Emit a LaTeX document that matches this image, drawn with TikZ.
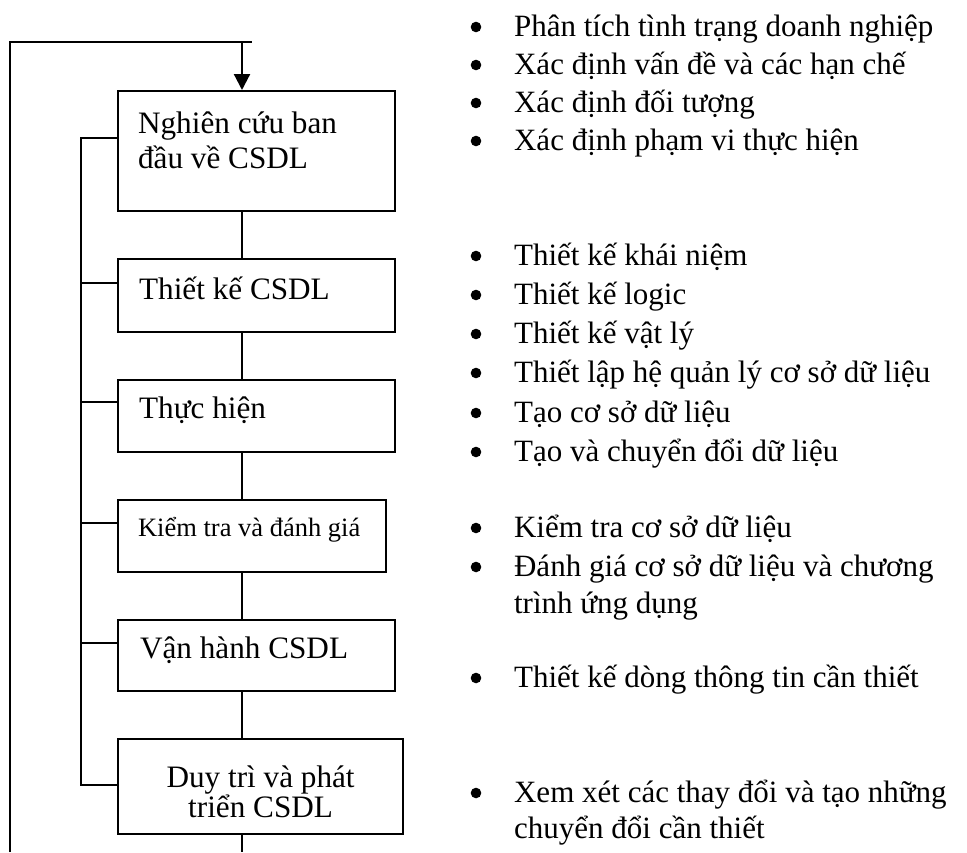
\documentclass[tikz,border=0pt]{standalone}
\usepackage{fontspec}
\setmainfont{Liberation Serif}
\usetikzlibrary{arrows.meta,calc}

\begin{document}
\begin{tikzpicture}[x=1pt,y=-1pt,line width=2.2pt,line join=miter,
  stage/.style={draw,rectangle,inner sep=0pt,anchor=north west},
  boxtext/.style={inner sep=0pt,anchor=base west,font=\fontsize{31.2}{37}\selectfont},
  boxsmall/.style={inner sep=0pt,anchor=base west,font=\fontsize{26.5}{32}\selectfont},
  boxcentre/.style={inner sep=0pt,anchor=base,font=\fontsize{31.2}{37}\selectfont},
  itemtext/.style={inner sep=0pt,anchor=base west,font=\fontsize{31}{38}\selectfont},
  tip/.style={-{Triangle[length=16pt,width=16pt]}}]
\useasboundingbox (0,0) rectangle (967,852);

% stage boxes
\node[stage,minimum width=277pt,minimum height=120pt] (b1) at (117,90) {};
\node[stage,minimum width=277pt,minimum height=73pt]  (b2) at (117,258) {};
\node[stage,minimum width=277pt,minimum height=72pt]  (b3) at (117,379) {};
\node[stage,minimum width=268pt,minimum height=72pt]  (b4) at (117,499) {};
\node[stage,minimum width=277pt,minimum height=71pt]  (b5) at (117,619) {};
\node[stage,minimum width=285pt,minimum height=95pt]  (b6) at (117,738) {};

% stage labels
\node[boxtext] (t1a) at (137,133) {Nghiên cứu ban};
\node[boxtext] (t1b) at (137,168) {đầu về CSDL};
\node[boxtext] (t2) at (138,299) {Thiết kế CSDL};
\node[boxtext] (t3) at (138,418) {Thực hiện};
\node[boxsmall] (t4) at (137,536) {Kiểm tra và đánh giá};
\node[boxtext] (t5) at (139,658) {Vận hành CSDL};
\node[boxcentre] (t6a) at ($(b6.north)+(0,49)$) {Duy trì và phát};
\node[boxcentre] (t6b) at ($(b6.north)+(0,79)$) {triển CSDL};

% guide coordinates
\coordinate (spine) at (242,0);
\coordinate (busx) at (81,0);
\coordinate (loopIn) at (10,852);
\coordinate (loopCorner) at (10,42);
\coordinate (loopTop) at (252,42);
\coordinate (exitPt) at (242,852);

% main flow
\draw[tip] (loopTop -| spine) -- (b1.north -| spine);
\draw (b1.south -| spine) -- (b2.north -| spine);
\draw (b2.south -| spine) -- (b3.north -| spine);
\draw (b3.south -| spine) -- (b4.north -| spine);
\draw (b4.south -| spine) -- (b5.north -| spine);
\draw (b5.south -| spine) -- (b6.north -| spine);
\draw (b6.south -| spine) -- (exitPt);

% outer feedback loop
\draw (loopIn) -- (loopCorner) -- (loopTop);

% inner bus linking every stage
\coordinate (k1) at ($(b1.north west)+(0,48)$);
\coordinate (k2) at ($(b2.north west)+(0,25)$);
\coordinate (k3) at ($(b3.north west)+(0,23)$);
\coordinate (k4) at ($(b4.north west)+(0,24)$);
\coordinate (k5) at ($(b5.north west)+(0,24)$);
\coordinate (k6) at ($(b6.north west)+(0,47)$);
\draw (k1) -| (k6 -| busx) -- (k6);
\draw (k2) -- (k2 -| busx);
\draw (k3) -- (k3 -| busx);
\draw (k4) -- (k4 -| busx);
\draw (k5) -- (k5 -| busx);

% activity lists
\node[itemtext] (r1) at (513,36) {Phân tích tình trạng doanh nghiệp};
\node[itemtext] (r2) at (513,74) {Xác định vấn đề và các hạn chế};
\node[itemtext] (r3) at (513,112) {Xác định đối tượng};
\node[itemtext] (r4) at (513,150) {Xác định phạm vi thực hiện};

\node[itemtext] (s1) at (513,265) {Thiết kế khái niệm};
\node[itemtext] (s2) at (513,304) {Thiết kế logic};
\node[itemtext] (s3) at (513,343) {Thiết kế vật lý};
\node[itemtext] (s4) at (513,382) {Thiết lập hệ quản lý cơ sở dữ liệu};
\node[itemtext] (s5) at (513,422) {Tạo cơ sở dữ liệu};
\node[itemtext] (s6) at (513,461) {Tạo và chuyển đổi dữ liệu};

\node[itemtext] (u1) at (513,537) {Kiểm tra cơ sở dữ liệu};
\node[itemtext] (u2) at (513,576) {Đánh giá cơ sở dữ liệu và chương};
\node[itemtext] (u2b) at (513,613) {trình ứng dụng};

\node[itemtext] (v1) at (513,687) {Thiết kế dòng thông tin cần thiết};

\node[itemtext] (w1) at (513,802) {Xem xét các thay đổi và tạo những};
\node[itemtext] (w1b) at (513,838) {chuyển đổi cần thiết};

% list bullets
\foreach \n in {r1,r2,r3,r4,s1,s2,s3,s4,s5,s6,u1,u2,v1,w1}
  \fill ($(\n.base west)+(-37,-9)$) circle (5.3pt);
\end{tikzpicture}
\end{document}
